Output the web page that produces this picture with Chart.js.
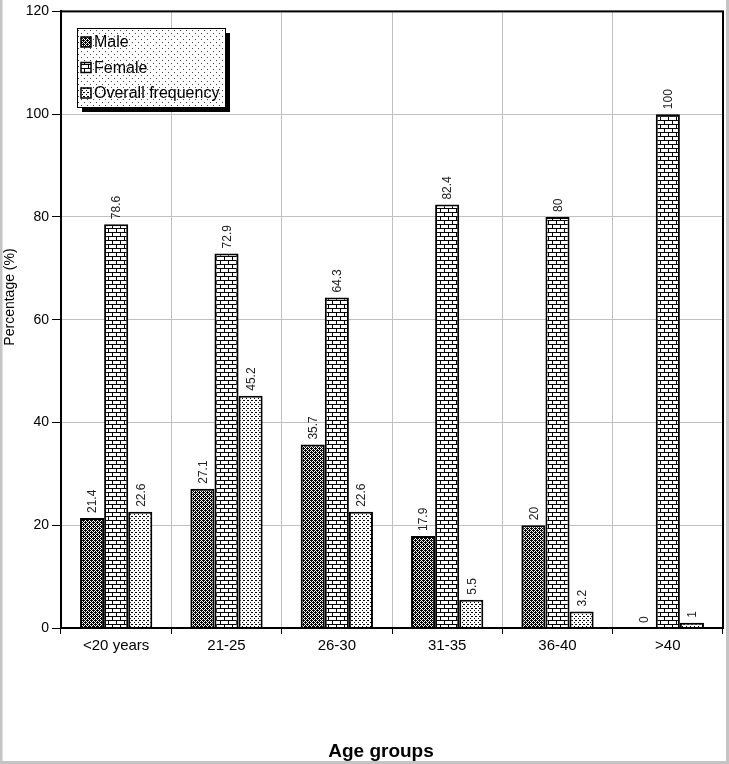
<!DOCTYPE html>
<html>
<head>
<meta charset="utf-8">
<script src="https://cdn.jsdelivr.net/npm/chart.js@4.4.1/dist/chart.umd.min.js"></script>
<style>
  html, body { margin: 0; padding: 0; background: #fff; }
  #wrap { width: 729px; height: 764px; position: relative; }
</style>
</head>
<body>
<div id="wrap"><canvas id="ageChart" width="729" height="764"></canvas></div>
<script>
// נתונים
const ageGroups = ['<20 years', '21-25', '26-30', '31-35', '36-40', '>40'];
const maleValues = [21.4, 27.1, 35.7, 17.9, 20, 0];
const femaleValues = [78.6, 72.9, 64.3, 82.4, 80, 100];
const overallValues = [22.6, 45.2, 22.6, 5.5, 3.2, 1];
const seriesNames = ['Male', 'Female', 'Overall frequency'];
const yTicks = [0, 20, 40, 60, 80, 100, 120];
const yTitle = 'Percentage (%)';
const xTitle = 'Age groups';

const FONT = '"Liberation Sans", Arial, sans-serif';

// יצירת דוגמאות מילוי (patterns)
function makePattern(w, h, drawFn) {
    const c = document.createElement('canvas');
    c.width = w; c.height = h;
    const g = c.getContext('2d');
    g.fillStyle = '#fff';
    g.fillRect(0, 0, w, h);
    g.fillStyle = '#000';
    drawFn(g);
    return c.getContext('2d').createPattern(c, 'repeat');
}

const ctx = document.getElementById('ageChart').getContext('2d');

const malePattern = makePattern(4, 4, g => {
    for (let y = 0; y < 4; y++) {
        for (let x = 0; x < 4; x++) {
            if ((x + y) % 2 === 0 || (x === 1 && y === 2) || (x === 3 && y === 0)) g.fillRect(x, y, 1, 1);
        }
    }
});
const femalePattern = makePattern(8, 8, g => {
    g.fillRect(0, 0, 8, 1);
    g.fillRect(0, 4, 8, 1);
    g.fillRect(0, 0, 1, 4);
    g.fillRect(4, 4, 1, 4);
});
const overallPattern = makePattern(4, 4, g => {
    g.fillRect(0, 0, 1, 1);
    g.fillRect(2, 2, 1, 1);
    g.fillRect(3, 0, 1, 1);
});
const legendBgPattern = makePattern(6, 6, g => {
    g.fillStyle = '#444';
    g.fillRect(0, 0, 1, 1);
    g.fillRect(3, 3, 1, 1);
});
const patterns = [malePattern, femalePattern, overallPattern];

// מסגרת, תוויות ערכים, כותרות ומקרא
const customDraw = {
    id: 'customDraw',
    afterDatasetsDraw(chart) {
        const c = chart.ctx;
        const area = chart.chartArea;
        c.save();
        // מסגרת עליונה וימנית
        c.strokeStyle = '#000';
        c.lineWidth = 2;
        c.strokeRect(area.left, area.top, area.right - area.left, area.bottom - area.top);

        // תוויות ערכים מסובבות
        c.fillStyle = '#222';
        c.font = '12px ' + FONT;
        c.textAlign = 'left';
        c.textBaseline = 'middle';
        chart.data.datasets.forEach((ds, i) => {
            const meta = chart.getDatasetMeta(i);
            meta.data.forEach((bar, j) => {
                c.save();
                c.translate(bar.x + 1, bar.y - 5);
                c.rotate(-Math.PI / 2);
                c.fillText(String(ds.data[j]), 0, 0);
                c.restore();
            });
        });

        // כותרות צירים
        c.fillStyle = '#000';
        c.textAlign = 'center';
        c.font = '14px ' + FONT;
        c.save();
        c.translate(10, 297);
        c.rotate(-Math.PI / 2);
        c.fillText(yTitle, 0, 0);
        c.restore();
        c.font = 'bold 19px ' + FONT;
        c.textBaseline = 'alphabetic';
        c.fillText(xTitle, 381, 757);

        // מקרא
        const lx = 77, ly = 28, lw = 148, lh = 79;
        c.fillStyle = '#000';
        c.fillRect(lx + 5, ly + 5, lw, lh);
        c.fillStyle = '#fff';
        c.fillRect(lx, ly, lw, lh);
        c.fillStyle = legendBgPattern;
        c.fillRect(lx, ly, lw, lh);
        c.strokeStyle = '#000';
        c.lineWidth = 1;
        c.strokeRect(lx + 0.5, ly + 0.5, lw, lh);
        c.font = '16px ' + FONT;
        c.textAlign = 'left';
        c.textBaseline = 'middle';
        chart.data.datasets.forEach((ds, i) => {
            const yy = ly + 14 + i * 25.5;
            c.fillStyle = '#fff';
            c.fillRect(lx + 4, yy - 5, 10, 10);
            c.fillStyle = patterns[i];
            c.fillRect(lx + 4, yy - 5, 10, 10);
            c.strokeStyle = '#000';
            c.lineWidth = 1.5;
            c.strokeRect(lx + 4, yy - 5, 10, 10);
            c.fillStyle = '#000';
            c.fillText(ds.label, lx + 17, yy + 1);
        });

        // מסגרת אפורה חיצונית
        c.strokeStyle = '#c4c4c4';
        c.lineWidth = 3;
        c.beginPath();
        c.moveTo(1, 0);
        c.lineTo(1, 762.5);
        c.lineTo(727.5, 762.5);
        c.lineTo(727.5, 0);
        c.stroke();
        c.restore();
    }
};

new Chart(ctx, {
    type: 'bar',
    data: {
        labels: ageGroups,
        datasets: [
            { label: seriesNames[0], data: maleValues, backgroundColor: malePattern },
            { label: seriesNames[1], data: femaleValues, backgroundColor: femalePattern },
            { label: seriesNames[2], data: overallValues, backgroundColor: overallPattern }
        ].map(ds => Object.assign(ds, {
            borderColor: '#000',
            borderWidth: 2,
            borderSkipped: 'start',
            barPercentage: 1,
            categoryPercentage: 0.655
        }))
    },
    options: {
        responsive: false,
        animation: false,
        layout: { padding: { left: 0, top: 8, right: 6, bottom: 2 } },
        plugins: {
            legend: { display: false },
            tooltip: { enabled: false }
        },
        scales: {
            x: {
                grid: { color: '#c0c0c0', lineWidth: 1, tickColor: '#000', tickLength: 6 },
                border: { color: '#000', width: 2 },
                ticks: {
                    color: '#000',
                    font: { family: FONT, size: 15 },
                    padding: 3
                },
                afterFit: s => { s.height = 134; }
            },
            y: {
                min: 0,
                max: 120,
                afterBuildTicks: s => { s.ticks = yTicks.map(v => ({ value: v })); },
                grid: { color: '#c0c0c0', lineWidth: 1, tickColor: '#000', tickLength: 9 },
                border: { color: '#000', width: 2 },
                ticks: {
                    color: '#000',
                    font: { family: FONT, size: 14 },
                    padding: 3
                },
                afterFit: s => { s.width = 61; }
            }
        }
    },
    plugins: [customDraw]
});
</script>
</body>
</html>
